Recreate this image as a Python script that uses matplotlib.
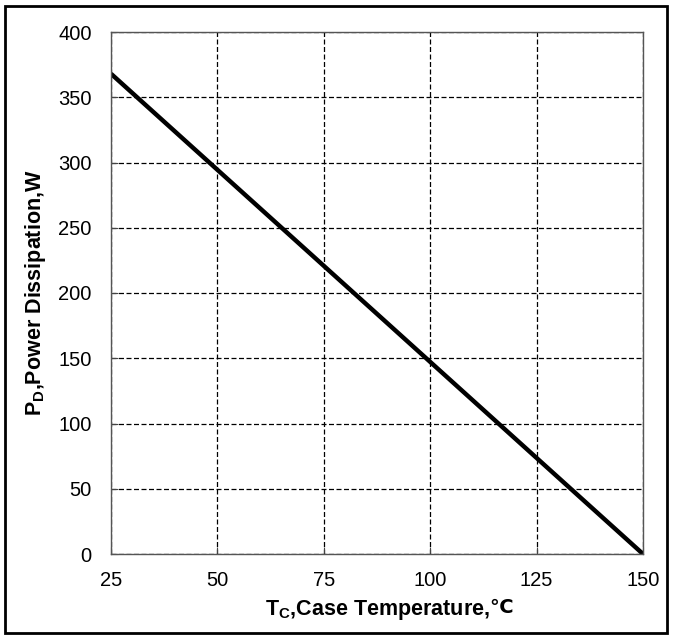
import matplotlib.pyplot as plt
from matplotlib.patches import Rectangle

# case temperature (C) vs power dissipation (W)
temp = [25, 150]
power = [368, 0]

xticks = [25, 50, 75, 100, 125, 150]
yticks = [0, 50, 100, 150, 200, 250, 300, 350, 400]

plt.rcParams['font.family'] = ['Liberation Sans', 'DejaVu Sans']

fig = plt.figure(figsize=(6.76, 6.35), dpi=100)
ax = fig.add_axes([111/676, 81/635, 532/676, 522/635])

ax.plot(temp, power, color='black', lw=3.2, solid_capstyle='butt')

ax.set_xlim(25, 150)
ax.set_ylim(0, 400)
ax.set_xticks(xticks)
ax.set_yticks(yticks)
ax.grid(True, color='black', linestyle=(0, (4, 2)), linewidth=0.9)
ax.tick_params(direction='in', length=5, labelsize=14.5, color='#444444')
ax.tick_params(axis='x', pad=12)
ax.tick_params(axis='y', pad=14)
for s in ax.spines.values():
    s.set_color('#555555')
    s.set_linewidth(1.0)

ax.set_xlabel(r'T$_\mathregular{C}$,Case Temperature,', fontsize=15.5, fontweight='bold', labelpad=6)
ax.set_ylabel(r'P$_\mathregular{D}$,Power Dissipation,W', fontsize=15.5, fontweight='bold', labelpad=7)
# the degree-celsius sign is not in Liberation Sans, draw it in DejaVu Sans
ax.annotate('℃', xy=(1, 0.5), xycoords=ax.xaxis.label, ha='left', va='center',
            xytext=(0, 1.5), textcoords='offset points',
            fontsize=14, fontweight='bold', family='DejaVu Sans')

fig.patches.append(Rectangle((5/676, 2/635), 662/676, 627/635, transform=fig.transFigure,
                             fill=False, edgecolor='black', linewidth=2))

fig.savefig('out.png', dpi=100)
